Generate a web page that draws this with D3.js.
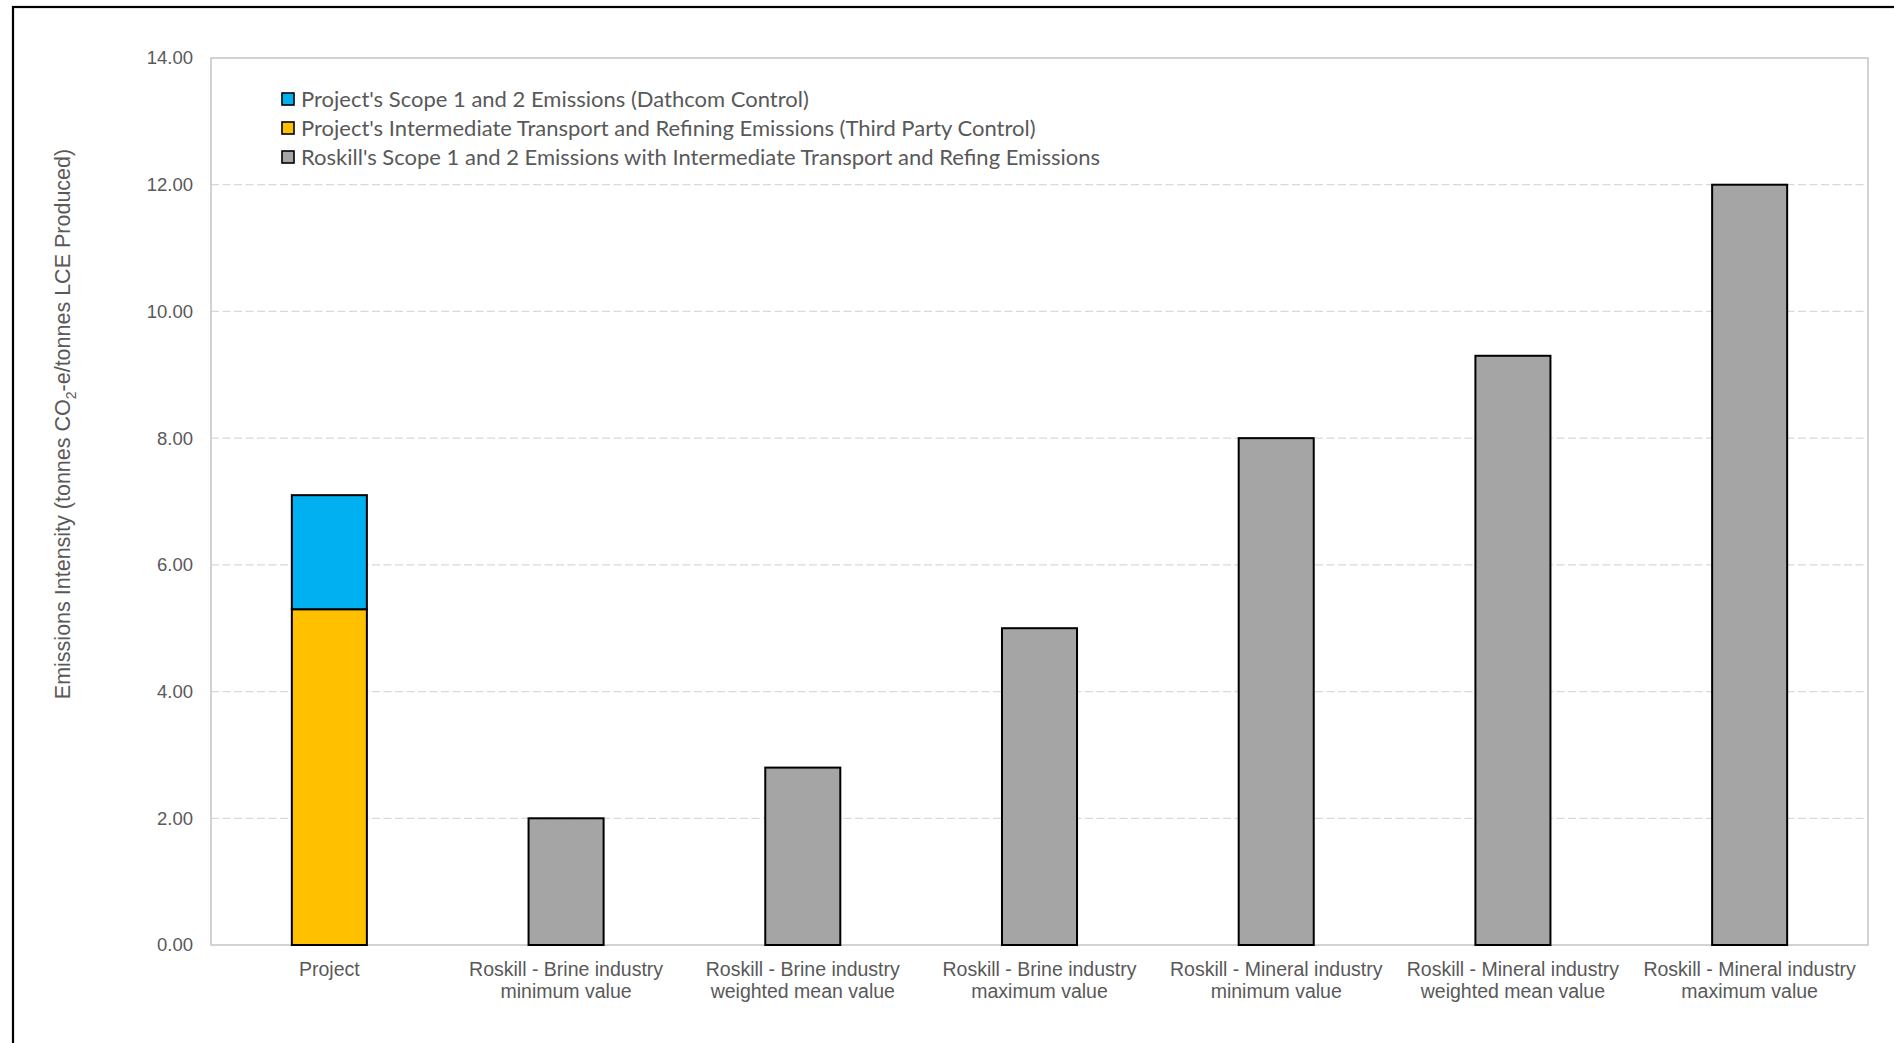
<!DOCTYPE html>
<html>
<head>
<meta charset="utf-8">
<script src="https://cdn.jsdelivr.net/npm/d3@7"></script>
<style>
  body { margin: 0; background: #fff; }
</style>
</head>
<body>
<div id="chart"></div>
<script>

// data
var categories = [
  "Project",
  "Roskill - Brine industry|minimum value",
  "Roskill - Brine industry|weighted mean value",
  "Roskill - Brine industry|maximum value",
  "Roskill - Mineral industry|minimum value",
  "Roskill - Mineral industry|weighted mean value",
  "Roskill - Mineral industry|maximum value"
];
var seriesNames = [
  "Project's Scope 1 and 2 Emissions (Dathcom Control)",
  "Project's Intermediate Transport and Refining Emissions (Third Party Control)",
  "Roskill's Scope 1 and 2 Emissions with Intermediate Transport and Refing Emissions"
];
var scope12 = [1.8, 0, 0, 0, 0, 0, 0];
var transport = [5.3, 0, 0, 0, 0, 0, 0];
var roskill = [0, 2.0, 2.8, 5.0, 8.0, 9.3, 12.0];
var yTicks = [0, 2, 4, 6, 8, 10, 12, 14];

var colors = { transport: "#FFC000", scope12: "#00B0F0", roskill: "#A5A5A5" };

var width = 1894, height = 1043;
var margin = { left: 211, right: 26, top: 58, bottom: 98 };
var arial = "'Liberation Sans', Arial, sans-serif";

var svg = d3.select("#chart").append("svg")
  .attr("width", width)
  .attr("height", height);

svg.append("rect")
  .attr("width", width).attr("height", height)
  .attr("fill", "#fff");

// outer frame (only left and top show in the picture)
svg.append("rect")
  .attr("x", 13).attr("y", 7)
  .attr("width", width + 20).attr("height", height + 20)
  .attr("fill", "none")
  .attr("stroke", "#000")
  .attr("stroke-width", 2.2);

var x = d3.scaleBand()
  .domain(categories)
  .range([margin.left, width - margin.right])
  .paddingInner(0.683)
  .paddingOuter(0.683 / 2);

var y = d3.scaleLinear()
  .domain([0, 14])
  .range([height - margin.bottom, margin.top]);

// grid
svg.append("g").selectAll("line")
  .data(yTicks.filter(function (t) { return t > 0 && t < 14; }))
  .enter().append("line")
  .attr("x1", margin.left).attr("x2", width - margin.right)
  .attr("y1", function (d) { return y(d); })
  .attr("y2", function (d) { return y(d); })
  .attr("stroke", "#d9d9d9")
  .attr("stroke-width", 1.3)
  .attr("stroke-dasharray", "8,3.5");

// plot frame
svg.append("rect")
  .attr("x", margin.left).attr("y", margin.top)
  .attr("width", width - margin.right - margin.left)
  .attr("height", y(0) - margin.top)
  .attr("fill", "none")
  .attr("stroke", "#c8c8c8")
  .attr("stroke-width", 1.6);

// y axis labels
var yAxis = svg.append("g")
  .attr("transform", "translate(" + margin.left + ",0)")
  .call(d3.axisLeft(y).tickValues(yTicks).tickFormat(d3.format(".2f")).tickSize(0).tickPadding(18));
yAxis.select(".domain").remove();
yAxis.selectAll("text")
  .attr("fill", "#595959")
  .style("font-family", arial)
  .style("font-size", "18.5px");

// bars
var rows = categories.map(function (c, i) {
  return { cat: c, transport: transport[i], scope12: scope12[i], roskill: roskill[i] };
});
var stack = d3.stack().keys(["transport", "scope12", "roskill"]);
var layers = stack(rows);

svg.append("g").selectAll("g")
  .data(layers)
  .enter().append("g")
  .attr("fill", function (d) { return colors[d.key]; })
  .selectAll("rect")
  .data(function (d) { return d.filter(function (s) { return s[1] - s[0] > 0; }); })
  .enter().append("rect")
  .attr("x", function (d) { return x(d.data.cat); })
  .attr("width", x.bandwidth())
  .attr("y", function (d) { return y(d[1]); })
  .attr("height", function (d) { return y(d[0]) - y(d[1]); })
  .attr("stroke", "#000")
  .attr("stroke-width", 2);

// x labels
var xl = svg.append("g").selectAll("text")
  .data(categories)
  .enter().append("text")
  .attr("x", function (d) { return x(d) + x.bandwidth() / 2; })
  .attr("y", 976)
  .attr("text-anchor", "middle")
  .attr("fill", "#595959")
  .style("font-family", arial)
  .style("font-size", "19.5px");
xl.selectAll("tspan")
  .data(function (d) { return d.split("|"); })
  .enter().append("tspan")
  .attr("x", function () { var p = d3.select(this.parentNode).datum(); return x(p) + x.bandwidth() / 2; })
  .attr("dy", function (d, i) { return i ? 22 : 0; })
  .text(function (d) { return d; });

// y title
var title = svg.append("text")
  .attr("transform", "translate(70,424) rotate(-90)")
  .attr("text-anchor", "middle")
  .attr("fill", "#595959")
  .style("font-family", arial)
  .style("font-size", "21.5px");
title.append("tspan").text("Emissions Intensity (tonnes CO");
title.append("tspan").attr("dy", 6).style("font-size", "14px").text("2");
title.append("tspan").attr("dy", -6).text("-e/tonnes LCE Produced)");

// legend
var legendKeys = ["scope12", "transport", "roskill"];
var legend = svg.append("g").selectAll("g")
  .data(seriesNames)
  .enter().append("g")
  .attr("transform", function (d, i) { return "translate(282," + (99 + i * 29) + ")"; });
legend.append("rect")
  .attr("x", 0).attr("y", -6)
  .attr("width", 12).attr("height", 12)
  .attr("fill", function (d, i) { return colors[legendKeys[i]]; })
  .attr("stroke", "#000")
  .attr("stroke-width", 1.6);
legend.append("text")
  .attr("x", 19).attr("y", 7.5)
  .attr("fill", "#595959")
  .style("font-family", "Lato, 'Open Sans', sans-serif")
  .style("font-size", "22px")
  .text(function (d) { return d; });

</script>
</body>
</html>
